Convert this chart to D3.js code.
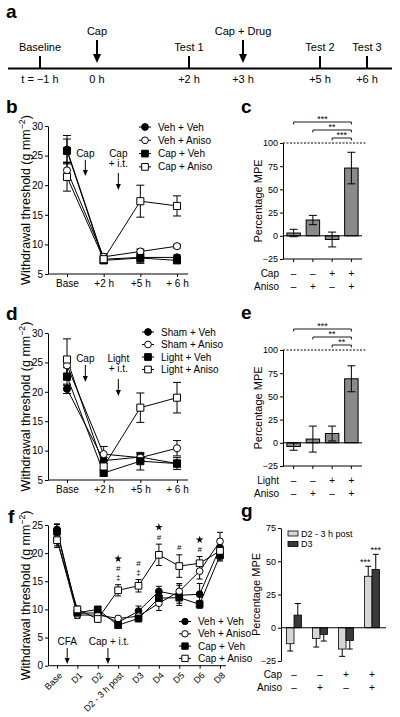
<!DOCTYPE html>
<html><head><meta charset="utf-8">
<script src="https://cdn.jsdelivr.net/npm/d3@7"></script>
<style>
body{margin:0;background:#fff}
svg{display:block}
text{font-family:"Liberation Sans",Arial,Helvetica,sans-serif;fill:#000}
</style>
</head><body>
<svg id="fig" width="400" height="717"></svg>
<script>
// ================= DATA =================
// Panel a: timeline
const timelineTimes = [-1, 0, 2, 3, 5, 6];
const timelineTickLabels = ["t = −1 h", "0 h", "+2 h", "+3 h", "+5 h", "+6 h"];
const testTimes = [-1, 2, 5, 6];
const testLabels = ["Baseline", "Test 1", "Test 2", "Test 3"];
const injectTimes = [0, 3];
const injectLabels = ["Cap", "Cap + Drug"];

// Panel b
const bCats = ["Base", "+2 h", "+5 h", "+ 6 h"];
const bNames = ["Veh + Veh", "Veh + Aniso", "Cap + Veh", "Cap + Aniso"];
const bVehVeh = [26.0, 7.5, 7.8, 7.8];
const bVehVehErr = [2.4, 0.5, 1.0, 0.4];
const bVehAniso = [22.5, 7.9, 8.8, 9.7];
const bVehAnisoErr = [1.4, 0.5, 0.4, 0.3];
const bCapVeh = [25.8, 7.3, 7.7, 7.3];
const bCapVehErr = [2.0, 0.5, 0.7, 0.4];
const bCapAniso = [21.4, 7.5, 17.3, 16.5];
const bCapAnisoErr = [2.4, 0.7, 2.7, 1.7];
const bYTicks = [5, 10, 15, 20, 25, 30];

// Panel c
const cCap = ["–", "–", "+", "+"];
const cAniso = ["–", "+", "–", "+"];
const cMPE = [3, 17, -4, 73];
const cMPEErr = [4, 5, 8, 17];
const cSig = [{from: 0, to: 3, label: "***"}, {from: 1, to: 3, label: "**"}, {from: 2, to: 3, label: "***"}];
const mpeTicks = [-25, 0, 25, 50, 75, 100];

// Panel d
const dCats = ["Base", "+2 h", "+5 h", "+ 6 h"];
const dNames = ["Sham + Veh", "Sham + Aniso", "Light + Veh", "Light + Aniso"];
const dShamVeh = [20.5, 8.3, 8.9, 7.8];
const dShamVehErr = [0.8, 0.5, 0.6, 0.6];
const dShamAniso = [24.5, 9.4, 8.8, 10.4];
const dShamAnisoErr = [1.5, 1.3, 0.5, 1.3];
const dLightVeh = [22.6, 6.2, 8.2, 7.8];
const dLightVehErr = [1.5, 0.5, 1.5, 1.0];
const dLightAniso = [25.5, 7.3, 17.3, 19.0];
const dLightAnisoErr = [3.5, 1.0, 2.5, 2.6];

// Panel e
const eLight = ["–", "–", "+", "+"];
const eAniso = ["–", "+", "–", "+"];
const eMPE = [-4, 4, 10, 69];
const eMPEErr = [4, 14, 8, 14];
const eSig = [{from: 0, to: 3, label: "***"}, {from: 1, to: 3, label: "**"}, {from: 2, to: 3, label: "**"}];

// Panel f
const fCats = ["Base", "D1", "D2", "D2 - 3 h post", "D3", "D4", "D5", "D6", "D8"];
const fNames = ["Veh + Veh", "Veh + Aniso", "Cap + Veh", "Cap + Aniso"];
const fVehVeh = [24.2, 9.3, 9.4, 7.7, 9.7, 13.2, 12.5, 12.7, 21.0];
const fVehVehErr = [1.0, 0.6, 0.5, 0.5, 0.9, 0.9, 1.8, 1.9, 1.5];
const fVehAniso = [22.5, 9.0, 9.0, 8.4, 8.8, 11.1, 13.2, 16.8, 22.1];
const fVehAnisoErr = [1.2, 0.6, 0.5, 0.4, 0.6, 1.3, 1.4, 1.4, 1.6];
const fCapVeh = [23.8, 9.4, 10.0, 7.2, 8.4, 12.0, 12.1, 10.9, 19.6];
const fCapVehErr = [1.3, 0.7, 0.5, 0.4, 0.6, 1.0, 1.0, 0.7, 1.0];
const fCapAniso = [22.3, 10.0, 8.3, 13.4, 14.2, 19.7, 17.7, 18.2, 20.4];
const fCapAnisoErr = [1.3, 0.6, 0.5, 1.0, 1.1, 1.9, 2.0, 1.2, 1.6];
const fYTicks = [0, 5, 10, 15, 20, 25];
const fSymbols = ["", "", "", "★#‡", "#‡", "★#", "#", "★#", ""];

// Panel g
const gCap = ["–", "–", "+", "+"];
const gAniso = ["–", "+", "–", "+"];
const gSeriesNames = ["D2 - 3 h post", "D3"];
const gD2 = [-12, -8, -16, 38.7];
const gD2Err = [5.5, 6.5, 5.5, 7.5];
const gD3 = [9.5, -5, -9.5, 43.8];
const gD3Err = [8.7, 5, 6.5, 11.4];
const gSigD2 = ["", "", "", "***"];
const gSigD3 = ["", "", "", "***"];
const gTicks = [-25, 0, 25, 50, 75];

// ================= DRAWING =================
const FONT = '"Liberation Sans", Arial, Helvetica, sans-serif';
const svg = d3.select("#fig");

function panelLabel(t, x, y) {
  svg.append("text").attr("x", x).attr("y", y).attr("font-size", 19).attr("font-weight", "bold").text(t);
}

function arrow(g, x, y1, y2, hw, hh, sw) {
  g.append("line").attr("x1", x).attr("x2", x).attr("y1", y1).attr("y2", y2 - hh + 1)
    .attr("stroke", "#000").attr("stroke-width", sw);
  g.append("path").attr("d", `M${x - hw / 2},${y2 - hh}L${x + hw / 2},${y2 - hh}L${x},${y2}Z`).attr("fill", "#000");
}

function styleAxis(ax, fs) {
  ax.attr("font-family", FONT).attr("font-size", fs);
  ax.selectAll("line,path").attr("stroke", "#000");
  ax.selectAll("text").attr("fill", "#000");
}

const markerTypes = [
  {shape: d3.symbolCircle, fill: "#000"},
  {shape: d3.symbolCircle, fill: "#fff"},
  {shape: d3.symbolSquare, fill: "#000"},
  {shape: d3.symbolSquare, fill: "#fff"}
];

function drawMarker(g, k, cx, cy, scale) {
  const mt = markerTypes[k];
  const area = mt.shape === d3.symbolCircle ? 40 * scale : 50 * scale;
  g.append("path").attr("d", d3.symbol().type(mt.shape).size(area)())
    .attr("transform", `translate(${cx},${cy})`)
    .attr("fill", mt.fill).attr("stroke", "#000").attr("stroke-width", 1);
}

function yLabel(g, x, yc, fs) {
  const t = g.append("text").attr("transform", `translate(${x},${yc}) rotate(-90)`)
    .attr("text-anchor", "middle").attr("font-size", fs);
  t.append("tspan").text("Withdrawal threshold (g mm");
  t.append("tspan").attr("font-size", fs * 0.7).attr("dy", -fs * 0.4).text("−2");
  t.append("tspan").attr("dy", fs * 0.4).text(")");
}

function linePanel(cfg) {
  const g = svg.append("g");
  const x = d3.scalePoint().domain(cfg.cats).range(cfg.xRange);
  const y = d3.scaleLinear().domain(cfg.yDomain).range(cfg.yRange);
  const y0 = y(cfg.yDomain[0]);
  const ya = g.append("g").attr("transform", `translate(${cfg.axisX},0)`)
    .call(d3.axisLeft(y).tickValues(cfg.yTicks).tickSize(3).tickSizeOuter(0).tickPadding(2));
  styleAxis(ya, 10);
  g.append("line").attr("x1", cfg.axisX).attr("x2", cfg.axisXEnd).attr("y1", y0).attr("y2", y0).attr("stroke", "#000");
  const xa = g.append("g").attr("transform", `translate(0,${y0})`)
    .call(d3.axisBottom(x).tickSize(3).tickSizeOuter(0).tickPadding(cfg.rotate ? 2 : 3));
  xa.select(".domain").remove();
  styleAxis(xa, cfg.xFont);
  if (cfg.rotate) {
    xa.selectAll(".tick text").attr("text-anchor", "end").attr("dy", "0.35em").attr("y", 0)
      .attr("transform", "translate(3,8) rotate(-45)");
  }
  const line = d3.line().x((d, i) => x(cfg.cats[i])).y(d => y(d));
  const cw = cfg.capW / 2;
  cfg.series.forEach((s, k) => {
    g.append("path").attr("d", line(s.vals)).attr("fill", "none").attr("stroke", "#000").attr("stroke-width", 1);
  });
  cfg.series.forEach((s, k) => {
    s.vals.forEach((v, i) => {
      const cx = x(cfg.cats[i]);
      const lo = y(v - s.errs[i]), hi = y(v + s.errs[i]);
      g.append("line").attr("x1", cx).attr("x2", cx).attr("y1", lo).attr("y2", hi).attr("stroke", "#000");
      g.append("line").attr("x1", cx - cw).attr("x2", cx + cw).attr("y1", lo).attr("y2", lo).attr("stroke", "#000");
      g.append("line").attr("x1", cx - cw).attr("x2", cx + cw).attr("y1", hi).attr("y2", hi).attr("stroke", "#000");
    });
  });
  cfg.series.forEach((s, k) => {
    s.vals.forEach((v, i) => drawMarker(g, k, x(cfg.cats[i]), y(v), cfg.mScale));
  });
  cfg.series.forEach((s, k) => {
    const ly = cfg.legY + k * cfg.legStep;
    g.append("line").attr("x1", cfg.legX - 6).attr("x2", cfg.legX + 6).attr("y1", ly).attr("y2", ly).attr("stroke", "#000");
    drawMarker(g, k, cfg.legX, ly, cfg.mScale * 0.9);
    g.append("text").attr("x", cfg.legX + 13).attr("y", ly).attr("dy", "0.35em").attr("font-size", 10).text(s.name);
  });
  yLabel(g, cfg.yLabX, (cfg.yRange[0] + cfg.yRange[1]) / 2, 12.5);
  return {g, x, y};
}

function axisMPE(g, y, axisX, xEnd, ticks, fs) {
  const ya = g.append("g").attr("transform", `translate(${axisX},0)`)
    .call(d3.axisLeft(y).tickValues(ticks).tickSize(3).tickSizeOuter(0).tickPadding(2));
  styleAxis(ya, fs);
  g.append("text").attr("transform", `translate(${axisX - 21},${(y.range()[0] + y.range()[1]) / 2}) rotate(-90)`)
    .attr("text-anchor", "middle").attr("font-size", 11).text("Percentage MPE");
}

function mpePanel(cfg) {
  const g = svg.append("g");
  const x = d3.scaleBand().domain(d3.range(cfg.vals.length)).range(cfg.xRange).paddingInner(0.3).paddingOuter(0.15);
  const y = d3.scaleLinear().domain([-25, 100]).range(cfg.yRange);
  axisMPE(g, y, cfg.axisX, cfg.xEnd, mpeTicks, 9);
  g.append("line").attr("x1", cfg.axisX).attr("x2", cfg.xEnd + 5).attr("y1", y(100)).attr("y2", y(100))
    .attr("stroke", "#000").attr("stroke-dasharray", "2,1.5");
  cfg.vals.forEach((v, i) => {
    g.append("rect").attr("x", x(i)).attr("width", x.bandwidth())
      .attr("y", Math.min(y(v), y(0))).attr("height", Math.abs(y(v) - y(0)))
      .attr("fill", "#8a8a8a").attr("stroke", "#000").attr("stroke-width", 1);
  });
  g.append("line").attr("x1", cfg.axisX).attr("x2", cfg.xEnd).attr("y1", y(0)).attr("y2", y(0)).attr("stroke", "#000");
  g.append("line").attr("x1", cfg.axisX).attr("x2", cfg.xEnd).attr("y1", y(-25)).attr("y2", y(-25)).attr("stroke", "#000");
  cfg.vals.forEach((v, i) => {
    const cx = x(i) + x.bandwidth() / 2;
    g.append("line").attr("x1", cx).attr("x2", cx).attr("y1", y(-25)).attr("y2", y(-25) + 3).attr("stroke", "#000");
    const lo = y(v - cfg.errs[i]), hi = y(v + cfg.errs[i]);
    g.append("line").attr("x1", cx).attr("x2", cx).attr("y1", lo).attr("y2", hi).attr("stroke", "#000");
    [lo, hi].forEach(yy => g.append("line").attr("x1", cx - 4).attr("x2", cx + 4).attr("y1", yy).attr("y2", yy).attr("stroke", "#000"));
  });
  const offs = [21, 13, 5];
  cfg.sig.forEach((s, k) => {
    const yy = y(100) - offs[k];
    const x1 = x(s.from) + x.bandwidth() / 2, x2 = x(s.to) + x.bandwidth() / 2;
    g.append("path").attr("d", `M${x1},${yy + 2.5}V${yy}H${x2}V${yy + 2.5}`).attr("fill", "none").attr("stroke", "#000").attr("stroke-width", 0.9);
    g.append("text").attr("x", (x1 + x2) / 2).attr("y", yy - 0.5).attr("text-anchor", "middle").attr("font-size", 9).text(s.label);
  });
  cfg.rows.forEach((r, k) => {
    const yy = y(-25) + 18 + k * 12.5;
    g.append("text").attr("x", cfg.axisX - 4).attr("y", yy).attr("text-anchor", "end").attr("font-size", 10).text(r.name);
    r.vals.forEach((sgn, i) => g.append("text").attr("x", x(i) + x.bandwidth() / 2).attr("y", yy)
      .attr("text-anchor", "middle").attr("font-size", 10).text(sgn));
  });
  return {g, x, y};
}

// ---------- Panel a ----------
(function () {
  const g = svg.append("g");
  const t = d3.scaleLinear().domain(timelineTimes).range([40, 97, 189, 243, 320, 367]);
  const ly = 68.5;
  g.append("line").attr("x1", 8).attr("x2", 392).attr("y1", ly).attr("y2", ly).attr("stroke", "#000").attr("stroke-width", 2);
  testTimes.forEach((tt, i) => {
    g.append("line").attr("x1", t(tt)).attr("x2", t(tt)).attr("y1", 56).attr("y2", ly).attr("stroke", "#000").attr("stroke-width", 2);
    g.append("text").attr("x", t(tt)).attr("y", 51).attr("text-anchor", "middle").attr("font-size", 11).text(testLabels[i]);
  });
  injectTimes.forEach((tt, i) => {
    arrow(g, t(tt), 40, 63, 8, 9, 2);
    g.append("text").attr("x", t(tt)).attr("y", 35).attr("text-anchor", "middle").attr("font-size", 11).text(injectLabels[i]);
  });
  timelineTimes.forEach((tt, i) => {
    g.append("text").attr("x", t(tt)).attr("y", 83).attr("text-anchor", "middle").attr("font-size", 11).text(timelineTickLabels[i]);
  });
  panelLabel("a", 6, 18);
})();

// ---------- Panel b ----------
(function () {
  const p = linePanel({
    cats: bCats, xRange: [67, 177], yDomain: [5, 30], yRange: [274, 126], yTicks: bYTicks,
    axisX: 48, axisXEnd: 188, xFont: 10, capW: 8, mScale: 1,
    series: [
      {name: bNames[0], vals: bVehVeh, errs: bVehVehErr},
      {name: bNames[1], vals: bVehAniso, errs: bVehAnisoErr},
      {name: bNames[2], vals: bCapVeh, errs: bCapVehErr},
      {name: bNames[3], vals: bCapAniso, errs: bCapAnisoErr}
    ],
    legX: 145, legY: 127, legStep: 13.3, yLabX: 30
  });
  const {g, x} = p;
  const xa = (x(bCats[0]) + x(bCats[1])) / 2;
  g.append("text").attr("x", xa).attr("y", 157).attr("text-anchor", "middle").attr("font-size", 10).text("Cap");
  arrow(g, xa, 160, 176, 5, 6, 1);
  const xb = x(bCats[1]) + 0.4 * (x(bCats[2]) - x(bCats[1]));
  g.append("text").attr("x", xb).attr("y", 157).attr("text-anchor", "middle").attr("font-size", 10).text("Cap");
  g.append("text").attr("x", xb).attr("y", 167).attr("text-anchor", "middle").attr("font-size", 10).text("+ i.t.");
  arrow(g, xb, 173, 190, 5, 6, 1);
  panelLabel("b", 6, 113);
})();

// ---------- Panel c ----------
mpePanel({vals: cMPE, errs: cMPEErr, xRange: [284, 361], yRange: [259, 143], axisX: 283, xEnd: 362,
  sig: cSig, rows: [{name: "Cap", vals: cCap}, {name: "Aniso", vals: cAniso}]});
panelLabel("c", 241, 113);

// ---------- Panel d ----------
(function () {
  const p = linePanel({
    cats: dCats, xRange: [67, 177], yDomain: [5, 30], yRange: [480, 333], yTicks: bYTicks,
    axisX: 48, axisXEnd: 188, xFont: 10, capW: 8, mScale: 1,
    series: [
      {name: dNames[0], vals: dShamVeh, errs: dShamVehErr},
      {name: dNames[1], vals: dShamAniso, errs: dShamAnisoErr},
      {name: dNames[2], vals: dLightVeh, errs: dLightVehErr},
      {name: dNames[3], vals: dLightAniso, errs: dLightAnisoErr}
    ],
    legX: 148, legY: 332, legStep: 12.5, yLabX: 30
  });
  const {g, x} = p;
  const xa = (x(dCats[0]) + x(dCats[1])) / 2;
  g.append("text").attr("x", xa).attr("y", 362).attr("text-anchor", "middle").attr("font-size", 10).text("Cap");
  arrow(g, xa, 365, 382, 5, 6, 1);
  const xb = x(dCats[1]) + 0.4 * (x(dCats[2]) - x(dCats[1]));
  g.append("text").attr("x", xb).attr("y", 362).attr("text-anchor", "middle").attr("font-size", 10).text("Light");
  g.append("text").attr("x", xb).attr("y", 372).attr("text-anchor", "middle").attr("font-size", 10).text("+ i.t.");
  arrow(g, xb, 379, 396, 5, 6, 1);
  panelLabel("d", 6, 320);
})();

// ---------- Panel e ----------
mpePanel({vals: eMPE, errs: eMPEErr, xRange: [284, 361], yRange: [466, 350], axisX: 283, xEnd: 362,
  sig: eSig, rows: [{name: "Light", vals: eLight}, {name: "Aniso", vals: eAniso}]});
panelLabel("e", 241, 319);

// ---------- Panel f ----------
(function () {
  const p = linePanel({
    cats: fCats, xRange: [57, 220], yDomain: [0, 25], yRange: [665.7, 525], yTicks: fYTicks,
    axisX: 48, axisXEnd: 226, xFont: 9, rotate: true, capW: 6, mScale: 0.9,
    series: [
      {name: fNames[0], vals: fVehVeh, errs: fVehVehErr},
      {name: fNames[1], vals: fVehAniso, errs: fVehAnisoErr},
      {name: fNames[2], vals: fCapVeh, errs: fCapVehErr},
      {name: fNames[3], vals: fCapAniso, errs: fCapAnisoErr}
    ],
    legX: 185, legY: 621.5, legStep: 12.3, yLabX: 30
  });
  const {g, x, y} = p;
  // significance symbols stacked above the Cap + Aniso error bar; star drawn as a symbol mark
  fSymbols.forEach((s, i) => {
    if (!s) return;
    const chars = Array.from(s).reverse();
    const cx = x(fCats[i]);
    let cur = y(fCapAniso[i] + fCapAnisoErr[i]) - 4.5;   // baseline / centre reference, moving upward
    chars.forEach((c, j) => {
      if (c === "★") {
        g.append("path").attr("d", d3.symbol().type(d3.symbolStar).size(18)())
          .attr("transform", `translate(${cx},${cur - 3.3})`).attr("fill", "#000");
        cur -= 8;
      } else {
        g.append("text").attr("x", cx).attr("y", cur).attr("text-anchor", "middle").attr("font-size", 8).text(c);
        cur -= 9;
      }
    });
  });
  const xa = (x(fCats[0]) + x(fCats[1])) / 2;
  g.append("text").attr("x", xa).attr("y", 645).attr("text-anchor", "middle").attr("font-size", 10).text("CFA");
  arrow(g, xa, 648, 664, 5, 6, 1);
  const xb = (x(fCats[2]) + x(fCats[3])) / 2;
  g.append("text").attr("x", xb + 1).attr("y", 645).attr("text-anchor", "middle").attr("font-size", 10).text("Cap + i.t.");
  arrow(g, xb, 648, 664, 5, 6, 1);
  panelLabel("f", 8, 523);
})();

// ---------- Panel g ----------
(function () {
  const g = svg.append("g");
  const x0 = d3.scaleBand().domain(d3.range(gD2.length)).range([281, 385]).paddingInner(0.42).paddingOuter(0.21);
  const x1 = d3.scaleBand().domain(gSeriesNames).range([0, x0.bandwidth()]);
  const y = d3.scaleLinear().domain([-25, 75]).range([661, 528]);
  axisMPE(g, y, 281, 386, gTicks, 9);
  const colors = ["#d6d6d6", "#3a3a3a"];
  const sets = [{vals: gD2, errs: gD2Err, sig: gSigD2}, {vals: gD3, errs: gD3Err, sig: gSigD3}];
  sets.forEach((s, k) => {
    s.vals.forEach((v, i) => {
      const bx = x0(i) + x1(gSeriesNames[k]);
      const cx = bx + x1.bandwidth() / 2;
      const ye = y(v + Math.sign(v) * s.errs[i]);
      g.append("line").attr("x1", cx).attr("x2", cx).attr("y1", y(v)).attr("y2", ye).attr("stroke", "#000");
      g.append("line").attr("x1", cx - 3).attr("x2", cx + 3).attr("y1", ye).attr("y2", ye).attr("stroke", "#000");
      g.append("rect").attr("x", bx).attr("width", x1.bandwidth())
        .attr("y", Math.min(y(v), y(0))).attr("height", Math.abs(y(v) - y(0)))
        .attr("fill", colors[k]).attr("stroke", "#000").attr("stroke-width", 0.8);
      if (s.sig[i]) {
        g.append("text").attr("x", cx - (k === 0 ? 3 : 0)).attr("y", ye - 1).attr("text-anchor", "middle")
          .attr("font-size", 9).text(s.sig[i]);
      }
    });
  });
  g.append("line").attr("x1", 281).attr("x2", 386).attr("y1", y(0)).attr("y2", y(0)).attr("stroke", "#000");
  gSeriesNames.forEach((n, k) => {
    const ly = 533.5 + k * 10.5;
    g.append("rect").attr("x", 288).attr("y", ly - 2.5).attr("width", 10).attr("height", 5)
      .attr("fill", colors[k]).attr("stroke", "#000").attr("stroke-width", 0.8);
    g.append("text").attr("x", 301).attr("y", ly).attr("dy", "0.35em").attr("font-size", 9).text(n);
  });
  [{name: "Cap", vals: gCap}, {name: "Aniso", vals: gAniso}].forEach((r, k) => {
    const yy = 678 + k * 13;
    g.append("text").attr("x", 282).attr("y", yy).attr("text-anchor", "end").attr("font-size", 10).text(r.name);
    r.vals.forEach((sgn, i) => g.append("text").attr("x", x0(i) + x0.bandwidth() / 2).attr("y", yy)
      .attr("text-anchor", "middle").attr("font-size", 10).text(sgn));
  });
  panelLabel("g", 241, 517);
})();
</script>
</body></html>
